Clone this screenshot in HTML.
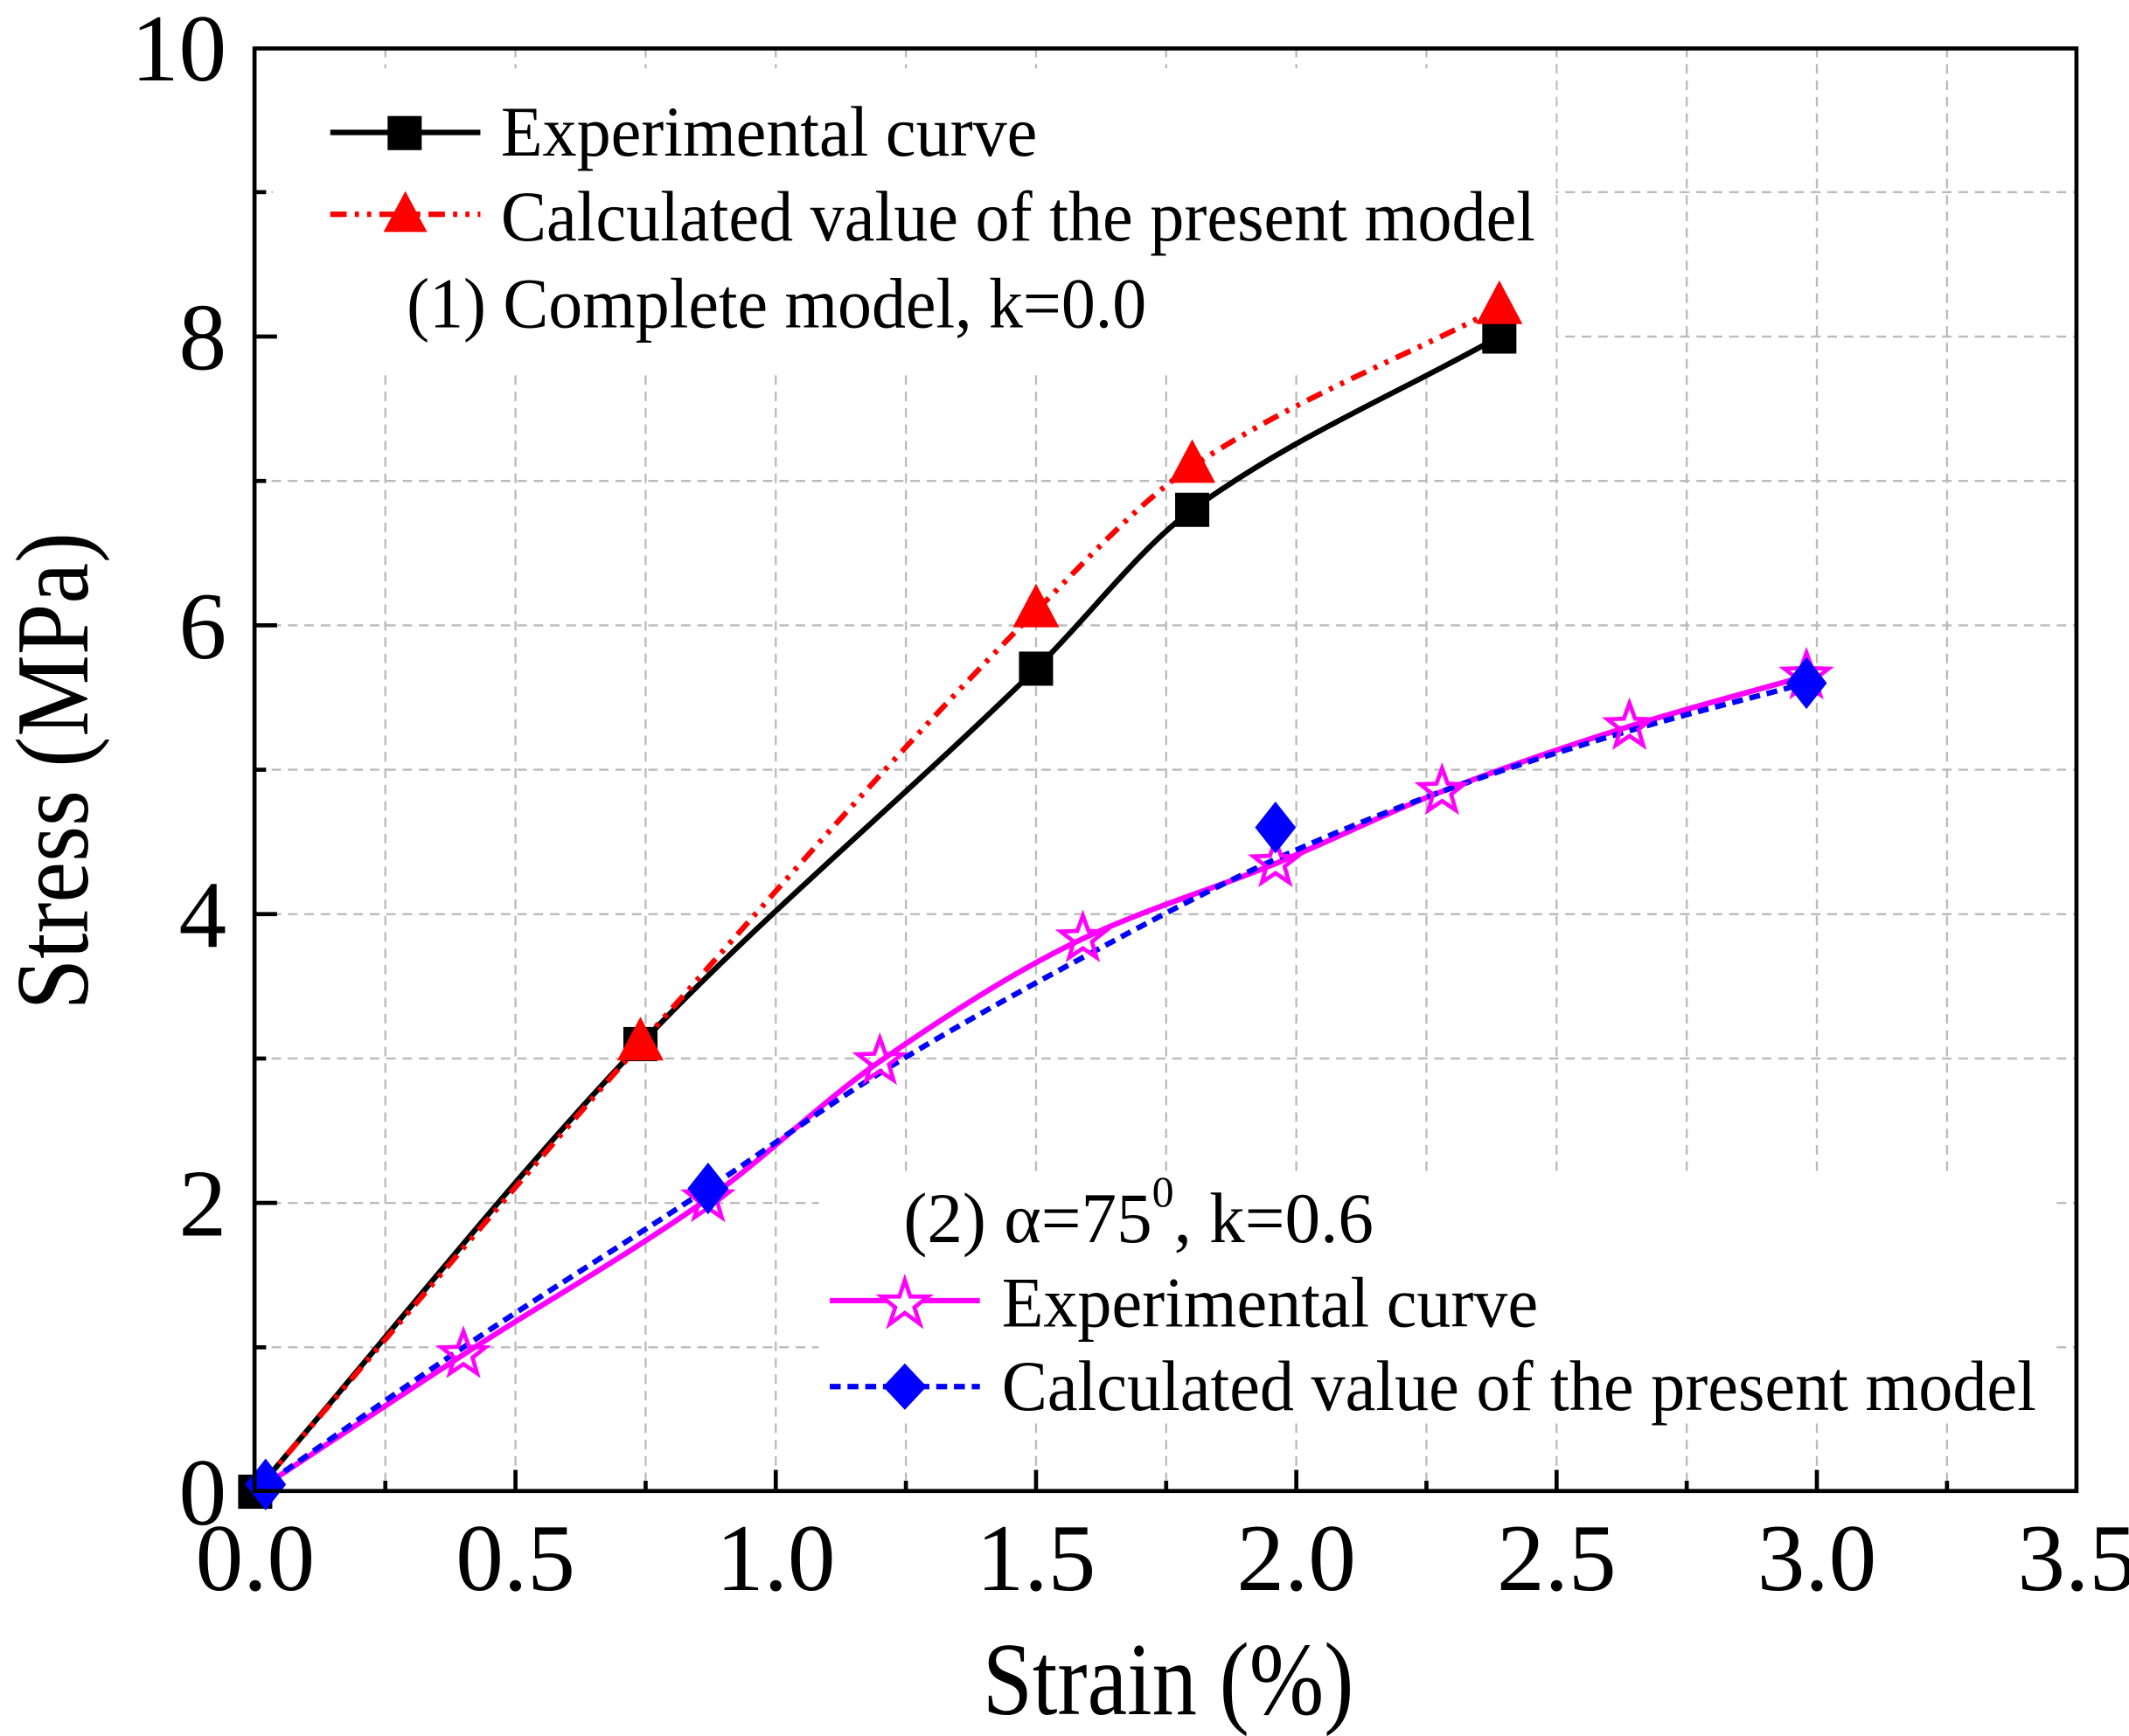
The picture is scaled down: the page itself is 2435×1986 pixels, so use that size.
<!DOCTYPE html>
<html><head><meta charset="utf-8"><style>
html,body{margin:0;padding:0;background:#fff;}
svg{display:block;}
text{font-family:"Liberation Serif",serif;fill:#000;}
</style></head><body>
<svg id="chart" width="2435" height="1986" viewBox="0 0 1560 1272" preserveAspectRatio="none" xmlns="http://www.w3.org/2000/svg">
<g id="grid"></g>
<rect x="200" y="50" width="940" height="222" fill="#fff"/>
<rect x="600" y="862" width="905" height="180" fill="#fff"/>
<g id="series"></g>
<rect x="186.5" y="35.5" width="1335" height="1057" fill="none" stroke="#000" stroke-width="3"/>
<g id="axes"></g>
<text x="720" y="1256" font-size="76" textLength="272" lengthAdjust="spacingAndGlyphs">Strain (%)</text>
<text transform="translate(64,740) rotate(-90)" font-size="76" textLength="350" lengthAdjust="spacingAndGlyphs">Stress (MPa)</text>

<g>
  <line x1="242" y1="97" x2="352" y2="97" stroke="#000" stroke-width="4"/>
  <rect x="284" y="85" width="25" height="25" fill="#000"/>
  <text x="367" y="114" font-size="52" textLength="393" lengthAdjust="spacingAndGlyphs">Experimental curve</text>
  <line x1="242" y1="157" x2="352" y2="157" stroke="#f00" stroke-width="4" stroke-dasharray="12,6,3,6,3,6"/>
  <polygon points="297,140 313,170 281,170" fill="#f00"/>
  <text x="367" y="176" font-size="52" textLength="758" lengthAdjust="spacingAndGlyphs">Calculated value of the present model</text>
  <text x="298" y="240" font-size="52" textLength="542" lengthAdjust="spacingAndGlyphs">(1) Complete model, k=0.0</text>
</g>
<g>
  <text x="662" y="910" font-size="52">(2) α=75<tspan font-size="32" dy="-26">0</tspan><tspan dy="26">, k=0.6</tspan></text>
  <line x1="608" y1="953" x2="718" y2="953" stroke="#f0f" stroke-width="4"/>
  <polygon points="663,938 667,950 680,950 670,958 674,970 663,962 652,970 656,958 646,950 659,950" fill="#fff" stroke="#f0f" stroke-width="3"/>
  <text x="734" y="972" font-size="52" textLength="393" lengthAdjust="spacingAndGlyphs">Experimental curve</text>
  <line x1="608" y1="1016" x2="718" y2="1016" stroke="#00f" stroke-width="4" stroke-dasharray="8,5"/>
  <polygon points="663,999 679,1016 663,1033 647,1016" fill="#00f"/>
  <text x="734" y="1033" font-size="52" textLength="758" lengthAdjust="spacingAndGlyphs">Calculated value of the present model</text>
</g>
</svg>
<script>
var xTicks=[0,0.5,1.0,1.5,2.0,2.5,3.0,3.5];
var xTickLabels=["0.0","0.5","1.0","1.5","2.0","2.5","3.0","3.5"];
var yTicks=[0,2,4,6,8,10];
var yTickLabels=["0","2","4","6","8","10"];
var expStrain1=[0,0.74,1.5,1.8,2.39];
var expStress1=[0,3.1,5.7,6.8,8.0];
var calcStrain1=[0,0.74,1.5,1.8,2.39];
var calcStress1=[0,3.1,6.1,7.1,8.2];
var expStrain2=[0,0.4,0.87,1.2,1.59,1.96,2.28,2.64,2.98];
var expStress2=[0,0.95,2.03,2.98,3.83,4.35,4.85,5.3,5.65];
var calcLineStrain2=[0,0.4,0.87,1.2,1.59,1.96,2.28,2.64,2.98];
var calcLineStress2=[0,1.0,2.1,2.9,3.7,4.38,4.85,5.27,5.6];
var calcMarkStrain2=[0.02,0.87,1.96,2.98];
var calcMarkStress2=[0.05,2.1,4.6,5.6];

var NS="http://www.w3.org/2000/svg";
var X0=187,X1=1522,Y0=1093,Y1=35;
function sx(v){return X0+(v-0)/(3.5-0)*(X1-X0);}
function sy(v){return Y0-(v-0)/(10-0)*(Y0-Y1);}
function mk(tag,attrs,parent){var e=document.createElementNS(NS,tag);for(var k in attrs)e.setAttribute(k,attrs[k]);parent.appendChild(e);return e;}
var grid=document.getElementById('grid'),axes=document.getElementById('axes'),series=document.getElementById('series');
var i,v,l,t,m;
for(i=1;i<14;i++){
  v=i*0.25;
  l=mk('line',{x1:sx(v),x2:sx(v),y1:Y1,y2:Y0,stroke:'#bbb','stroke-width':1.5,'stroke-dasharray':'7,5'},grid);
  
  
  t=mk('line',{x1:sx(v),x2:sx(v),y1:Y0,y2:Y0-(i%2===0?16:8),stroke:'#000','stroke-width':3},axes);
  
  
}
for(i=1;i<10;i++){
  l=mk('line',{x1:X0,x2:X1,y1:sy(i),y2:sy(i),stroke:'#bbb','stroke-width':1.5,'stroke-dasharray':'7,5'},grid);
  
  
  t=mk('line',{x1:X0,x2:X0+(i%2===0?16:8),y1:sy(i),y2:sy(i),stroke:'#000','stroke-width':3},axes);
  
  
}
xTicks.forEach(function(v,i){
  var t=mk('text',{x:sx(v),y:1165,'font-size':70,'text-anchor':'middle'},axes);
  t.textContent=xTickLabels[i];
  
  
});
yTicks.forEach(function(v,i){
  var t=mk('text',{x:166,y:sy(v)+24,'font-size':70,'text-anchor':'end'},axes);
  t.textContent=yTickLabels[i];
  
  
});
function smooth(xs,ys){
  var n=xs.length,px=[],py=[],dlt=[],mm=[],k;
  for(k=0;k<n;k++){px.push(sx(xs[k]));py.push(sy(ys[k]));}
  for(k=0;k<n-1;k++)dlt.push((py[k+1]-py[k])/(px[k+1]-px[k]));
  mm[0]=dlt[0];mm[n-1]=dlt[n-2];
  for(k=1;k<n-1;k++){mm[k]=(dlt[k-1]*dlt[k]<=0)?0:2/(1/dlt[k-1]+1/dlt[k]);}
  var d='M'+px[0]+','+py[0];
  for(k=0;k<n-1;k++){
    var h=(px[k+1]-px[k])/3;
    d+=' C'+(px[k]+h)+','+(py[k]+mm[k]*h)+' '+(px[k+1]-h)+','+(py[k+1]-mm[k+1]*h)+' '+px[k+1]+','+py[k+1];
  }
  return d;
}
function curve(xs,ys,color,dash,name){
  var a={d:smooth(xs,ys),fill:'none',stroke:color,'stroke-width':4};
  if(dash)a['stroke-dasharray']=dash;
  var p=mk('path',a,series);
  
  
}
curve(expStrain1,expStress1,'#000',null,'experimental-curve-1');
curve(calcStrain1,calcStress1,'#f00','12,6,3,6,3,6','calculated-curve-1');
curve(expStrain2,expStress2,'#f0f',null,'experimental-curve-2');
curve(calcLineStrain2,calcLineStress2,'#00f','8,5','calculated-curve-2');
expStrain1.forEach(function(v,i){
  var x=sx(v),y=sy(expStress1[i]);
  var m=mk('rect',{x:x-12.5,y:y-12.5,width:25,height:25,fill:'#000'},series);
  
  
});
calcStrain1.forEach(function(v,i){
  if(i===0)return;
  var x=sx(v),y=sy(calcStress1[i]);
  var m=mk('polygon',{points:x+','+(y-20)+' '+(x+17)+','+(y+12)+' '+(x-17)+','+(y+12),fill:'#f00'},series);
  
  
});
expStrain2.forEach(function(v,i){
  if(i===0)return;
  var x=sx(v),y=sy(expStress2[i]);
  var pts=[];
  for(var k=0;k<10;k++){var r=k%2?7:17;var a=-Math.PI/2+k*Math.PI/5;pts.push((x+r*Math.cos(a))+','+(y+r*Math.sin(a)));}
  var m=mk('polygon',{points:pts.join(' '),fill:'none',stroke:'#f0f','stroke-width':3},series);
  
  
});
calcMarkStrain2.forEach(function(v,i){
  var x=sx(v),y=sy(calcMarkStress2[i]);
  var m=mk('polygon',{points:x+','+(y-19)+' '+(x+15)+','+y+' '+x+','+(y+19)+' '+(x-15)+','+y,fill:'#00f'},series);
  
  
});
</script>
</body></html>
